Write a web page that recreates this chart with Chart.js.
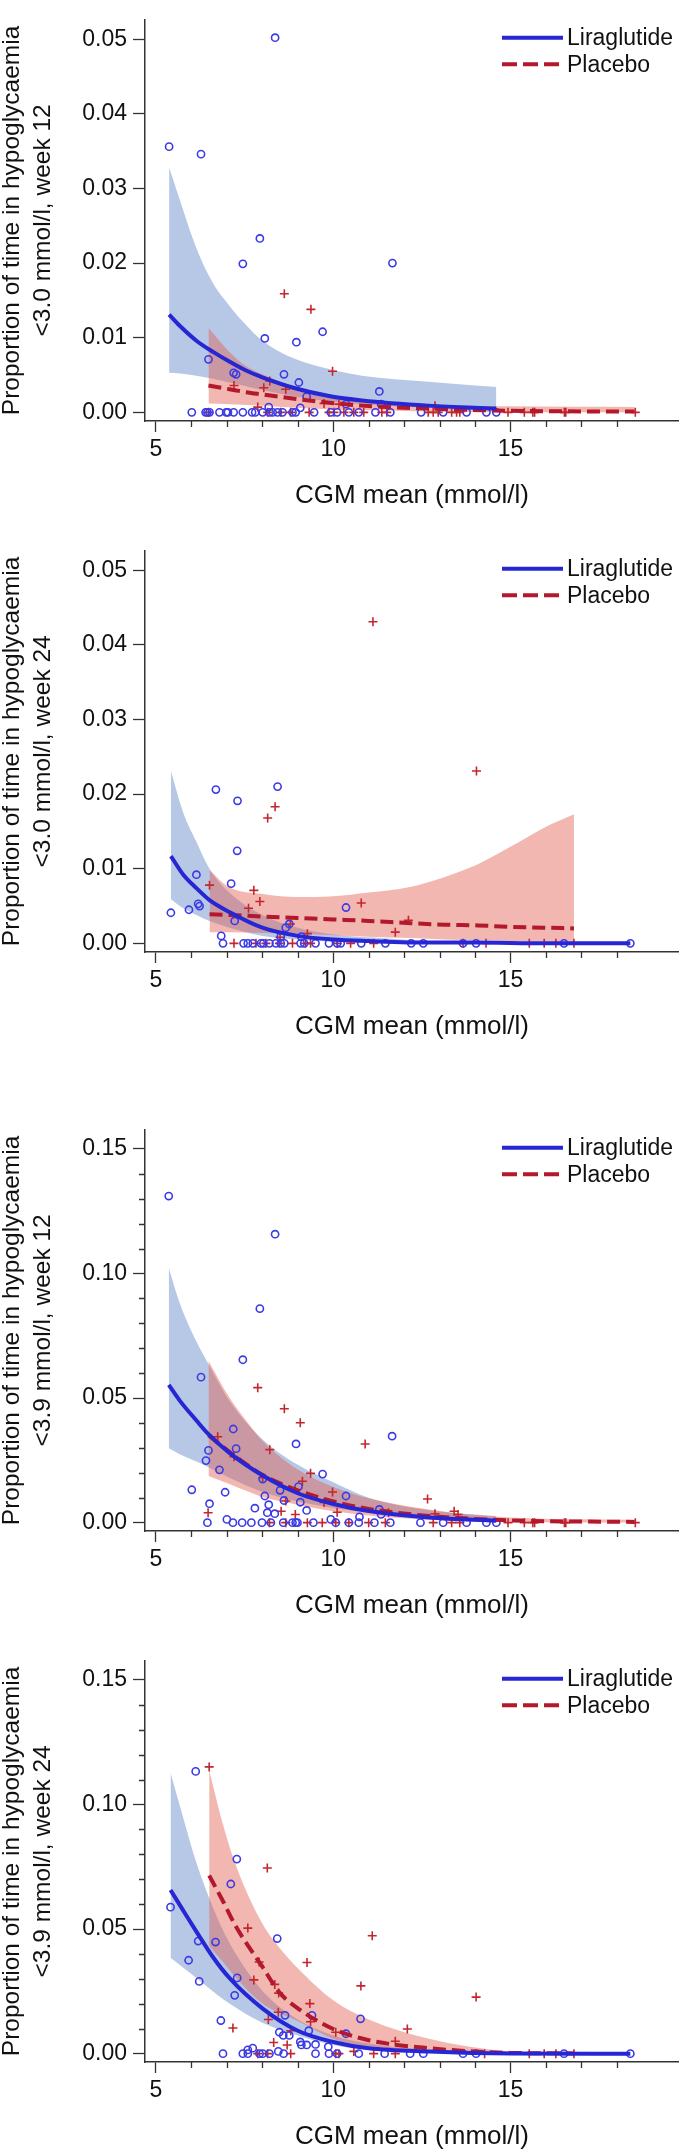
<!DOCTYPE html>
<html>
<head>
<meta charset="utf-8">
<script src="https://cdn.jsdelivr.net/npm/chart.js@4.4.0/dist/chart.umd.min.js"></script>
<style>
  body { margin: 0; background: #fff; }
  #wrap { position: relative; width: 685px; height: 2152px; }
  canvas { position: absolute; left: 0; }
</style>
</head>
<body>
<div id="wrap">
  <canvas id="p1" width="685" height="511" style="top:0px"></canvas>
  <canvas id="p2" width="685" height="511" style="top:531px"></canvas>
  <canvas id="p3" width="685" height="511" style="top:1110px"></canvas>
  <canvas id="p4" width="685" height="511" style="top:1641px"></canvas>
</div>
<script>
// axis ticks
const xMajorTicks = [5, 10, 15];
const xMinorTicks = [6, 7, 8, 9, 11, 12, 13, 14, 16, 17, 18];
const yTicksLow = [0, 0.01, 0.02, 0.03, 0.04, 0.05];
const yTicksHigh = [0, 0.05, 0.10, 0.15];
const yMinorHigh = [0.01, 0.02, 0.03, 0.04, 0.06, 0.07, 0.08, 0.09, 0.11, 0.12, 0.13, 0.14];

const seriesNames = ["Liraglutide", "Placebo"];
const xTitle = "CGM mean (mmol/l)";
const yTitleMain = "Proportion of time in hypoglycaemia";
const yTitleSub = ["<3.0 mmol/l, week 12", "<3.0 mmol/l, week 24", "<3.9 mmol/l, week 12", "<3.9 mmol/l, week 24"];

// ---- panel 1 : <3.0 mmol/l, week 12
const p1LiraPts = [[5.37,0.0356],[6.27,0.0346],[8.36,0.0502],[7.93,0.0233],[7.45,0.0199],[11.67,0.0200],[9.70,0.0108],[8.07,0.0099],[8.96,0.0094],[6.48,0.0071],[7.19,0.0053],[7.26,0.0051],[8.61,0.0051],[9.03,0.0040],[9.25,0.0021],[11.30,0.0028],[11.35,0.0011],[10.36,0.0011],[8.18,0.0007],[9.07,0.0006],
  [6.01,0],[6.40,0],[6.45,0],[6.51,0],[6.79,0],[6.98,0],[7.03,0],[7.19,0],[7.45,0],[7.71,0],[7.80,0],[8.01,0],[8.20,0],[8.29,0],[8.43,0],[8.57,0],[8.85,0],[8.94,0],[9.46,0],[9.93,0],[10.11,0],[10.44,0],[10.72,0],[11.19,0],[11.61,0],[12.48,0],[13.10,0],[13.76,0],[14.32,0],[14.60,0]];
const p1PlacPts = [[8.62,0.0159],[9.37,0.0138],[9.98,0.0055],[8.21,0.0042],[7.20,0.0036],[8.04,0.0033],[8.66,0.0031],[7.87,0.0007],[9.74,0.0012],[10.16,0.0011],[12.87,0.0009],
  [6.48,0],[8.15,0],[8.52,0],[8.80,0],[9.32,0],[9.88,0],[10.02,0],[10.30,0],[10.58,0],[10.86,0],[11.37,0],[11.51,0],[12.68,0],[12.82,0],[12.96,0],[13.34,0],[13.48,0],[13.57,0],[14.93,0],[15.39,0],[15.63,0],[15.68,0],[16.52,0],[16.56,0],[18.52,0]];
const p1LiraX = [5.37, 5.67, 6.14, 6.61, 7.07, 7.54, 8.0, 8.95, 9.88, 10.81, 12.68, 14.6];
const p1LiraFit = [0.0131, 0.0116, 0.0096, 0.0081, 0.0068, 0.0056, 0.0047, 0.0032, 0.0022, 0.0016, 0.0009, 0.0005];
const p1LiraHi = [0.0328, 0.0285, 0.0220, 0.0173, 0.0143, 0.0117, 0.0096, 0.0071, 0.0058, 0.0049, 0.0041, 0.0034];
const p1LiraLo = [0.0053, 0.0052, 0.0049, 0.0045, 0.0040, 0.0035, 0.0030, 0.0021, 0.0015, 0.0011, 0.0006, 0.0003];
const p1PlacX = [6.48, 7.07, 7.54, 8.0, 8.95, 9.88, 10.81, 12.68, 15.0, 18.5];
const p1PlacFit = [0.0036, 0.0031, 0.0027, 0.0024, 0.0018, 0.0013, 0.0009, 0.0005, 0.0002, 0.0001];
const p1PlacHi = [0.0113, 0.0081, 0.0062, 0.0051, 0.0034, 0.0024, 0.0018, 0.0011, 0.0008, 0.0007];
const p1PlacLo = [0.0012, 0.0011, 0.0010, 0.0009, 0.0006, 0.0004, 0.0003, 0.0001, 0.0000, 0.0000];

// ---- panel 2 : <3.0 mmol/l, week 24
const p2LiraPts = [[5.42,0.0041],[5.93,0.0045],[6.14,0.0092],[6.19,0.0053],[6.23,0.0050],[6.69,0.0206],[7.12,0.0080],[7.30,0.0191],[7.29,0.0124],[7.22,0.0030],[6.84,0.0010],[8.43,0.0210],[8.52,0.0009],[8.66,0.0021],[8.76,0.0026],[9.10,0.0009],[10.36,0.0048],
  [6.89,0],[7.47,0],[7.59,0],[7.73,0],[7.96,0],[8.03,0],[8.20,0],[8.38,0],[8.52,0],[8.62,0],[9.08,0],[9.18,0],[9.50,0],[9.88,0],[10.11,0],[10.21,0],[10.79,0],[11.47,0],[12.20,0],[12.54,0],[13.66,0],[14.03,0],[16.51,0],[18.38,0]];
const p2PlacPts = [[6.51,0.0078],[7.76,0.0071],[7.93,0.0056],[7.61,0.0047],[8.15,0.0168],[8.36,0.0183],[11.12,0.0431],[10.79,0.0054],[8.79,0.0026],[9.27,0.0013],[8.50,0.0008],[11.75,0.0015],[12.12,0.0031],[14.04,0.0231],
  [7.20,0],[7.82,0],[8.10,0],[8.48,0],[8.85,0],[9.22,0],[9.36,0],[10.11,0],[10.49,0],[11.14,0],[13.66,0],[14.31,0],[15.53,0],[15.95,0],[16.28,0],[16.79,0]];
const p2LiraX = [5.42, 5.77, 6.14, 6.51, 7.07, 8.0, 9.0, 10.0, 11.0, 12.7, 14.0, 16.0, 18.38];
const p2LiraFit = [0.0117, 0.0092, 0.0074, 0.0058, 0.0042, 0.0021, 0.0010, 0.0005, 0.0003, 0.0001, 0.0001, 0.0000, 0.0000];
const p2LiraHi = [0.0231, 0.0175, 0.0136, 0.0100, 0.0068, 0.0038, 0.0021, 0.0012, 0.0008, 0.0003, 0.0002, 0.0001, 0.0000];
const p2LiraLo = [0.0059, 0.0047, 0.0038, 0.0030, 0.0021, 0.0010, 0.0005, 0.0002, 0.0001, 0.0000, 0.0000, 0.0000, 0.0000];
const p2PlacX = [6.51, 7.07, 8.0, 9.0, 10.0, 11.0, 12.2, 13.15, 14.08, 15.02, 15.95, 16.79];
const p2PlacFit = [0.0039, 0.0038, 0.0036, 0.0034, 0.0032, 0.0030, 0.0027, 0.0025, 0.0024, 0.0022, 0.0021, 0.0020];
const p2PlacHi = [0.0098, 0.0075, 0.0066, 0.0062, 0.0063, 0.0068, 0.0076, 0.0089, 0.0106, 0.0130, 0.0155, 0.0173];
const p2PlacLo = [0.0015, 0.0015, 0.0014, 0.0013, 0.0011, 0.0009, 0.0007, 0.0005, 0.0004, 0.0003, 0.0002, 0.0002];

// ---- panel 3 : <3.9 mmol/l, week 12
const p3LiraPts = [[5.36,0.1311],[8.36,0.1158],[7.93,0.0859],[7.45,0.0654],[6.27,0.0584],[7.18,0.0376],[11.66,0.0347],[6.48,0.0290],[7.26,0.0297],[6.41,0.0249],[8.95,0.0316],[6.79,0.0212],[9.70,0.0195],[8.01,0.0175],[6.01,0.0132],[6.95,0.0122],[8.50,0.0130],[9.02,0.0145],[8.07,0.0107],[10.36,0.0107],[8.61,0.0089],[9.07,0.0082],[6.51,0.0076],[7.79,0.0058],[8.18,0.0072],[8.14,0.0040],[8.35,0.0036],[9.25,0.0049],[11.30,0.0053],[11.35,0.0033],[10.74,0.0023],[7.00,0.0013],[9.93,0.0013],
  [6.45,0],[7.17,0],[7.43,0],[7.69,0],[7.99,0],[8.24,0],[8.59,0],[8.85,0],[8.94,0],[8.99,0],[9.44,0],[10.07,0],[10.44,0],[10.72,0],[11.16,0],[11.61,0],[12.46,0],[13.10,0],[13.76,0],[14.32,0],[14.60,0]];
const p3PlacPts = [[6.74,0.0345],[7.87,0.0542],[8.62,0.0457],[9.07,0.0401],[8.21,0.0293],[7.20,0.0265],[10.90,0.0316],[9.36,0.0198],[9.13,0.0166],[8.01,0.0180],[9.98,0.0123],[9.74,0.0081],[10.11,0.0042],[8.53,0.0046],[8.93,0.0033],[6.47,0.0040],[8.66,0.0087],[11.56,0.0040],[12.66,0.0095],[12.87,0.0036],[13.41,0.0046],[13.52,0.0033],
  [8.20,0],[8.66,0],[9.27,0],[9.69,0],[10.07,0],[10.44,0],[11.00,0],[11.47,0],[12.82,0],[13.34,0],[13.57,0],[14.93,0],[15.39,0],[15.63,0],[15.68,0],[16.52,0],[16.56,0],[18.52,0]];
const p3LiraX = [5.36, 5.67, 6.14, 6.48, 7.07, 8.0, 9.0, 10.0, 11.0, 12.7, 14.6];
const p3LiraFit = [0.0553, 0.0490, 0.0410, 0.0355, 0.0280, 0.0190, 0.0118, 0.0075, 0.0047, 0.0021, 0.0008];
const p3LiraHi = [0.1022, 0.0881, 0.0727, 0.0637, 0.0489, 0.0335, 0.0232, 0.0162, 0.0100, 0.0050, 0.0027];
const p3LiraLo = [0.0299, 0.0275, 0.0245, 0.0222, 0.0180, 0.0123, 0.0085, 0.0059, 0.0040, 0.0018, 0.0005];
const p3PlacX = [6.48, 7.07, 7.54, 8.0, 9.0, 10.0, 11.0, 12.7, 15.0, 18.5];
const p3PlacFit = [0.0351, 0.0284, 0.0235, 0.0192, 0.0130, 0.0085, 0.0055, 0.0027, 0.0009, 0.0003];
const p3PlacHi = [0.0650, 0.0502, 0.0410, 0.0329, 0.0213, 0.0143, 0.0098, 0.0053, 0.0021, 0.0012];
const p3PlacLo = [0.0187, 0.0155, 0.0128, 0.0104, 0.0072, 0.0046, 0.0029, 0.0012, 0.0003, 0.0001];

// ---- panel 4 : <3.9 mmol/l, week 24
const p4LiraPts = [[5.41,0.0588],[6.12,0.1133],[5.92,0.0375],[6.19,0.0452],[6.22,0.0290],[6.68,0.0448],[7.11,0.0681],[7.28,0.0781],[7.29,0.0304],[7.22,0.0234],[6.83,0.0133],[8.42,0.0462],[8.64,0.0154],[9.40,0.0154],[9.31,0.0092],[10.36,0.0080],[10.77,0.0140],[8.48,0.0086],[8.59,0.0073],[8.76,0.0073],[9.07,0.0047],[9.10,0.0035],[9.25,0.0035],[9.50,0.0037],[9.86,0.0028],[7.73,0.0022],[7.59,0.0015],[8.45,0.0009],
  [6.89,0],[7.45,0],[7.59,0],[7.92,0],[8.01,0],[8.20,0],[8.60,0],[9.50,0],[9.88,0],[10.11,0],[10.72,0],[11.45,0],[12.17,0],[12.54,0],[13.66,0],[14.03,0],[16.51,0],[18.38,0]];
const p4PlacPts = [[6.50,0.1151],[8.14,0.0745],[7.59,0.0504],[11.10,0.0473],[7.91,0.0368],[9.26,0.0366],[7.76,0.0296],[8.35,0.0278],[8.46,0.0243],[10.78,0.0272],[9.34,0.0201],[8.45,0.0166],[8.17,0.0137],[7.17,0.0103],[8.80,0.0092],[12.09,0.0099],[10.07,0.0086],[8.32,0.0045],[8.70,0.0035],[9.36,0.0128],[11.75,0.0050],[14.03,0.0227],[10.58,0.0009],
  [7.87,0],[8.15,0],[8.80,0],[10.07,0],[10.16,0],[11.14,0],[11.75,0],[14.27,0],[15.53,0],[15.95,0],[16.28,0],[16.79,0]];
const p4LiraX = [5.41, 5.77, 6.14, 6.61, 7.07, 8.0, 9.0, 10.0, 11.0, 12.7, 15.0, 18.38];
const p4LiraFit = [0.0657, 0.0574, 0.0490, 0.0387, 0.0304, 0.0182, 0.0092, 0.0047, 0.0022, 0.0009, 0.0001, 0.0000];
const p4LiraHi = [0.1128, 0.0946, 0.0766, 0.0586, 0.0445, 0.0253, 0.0137, 0.0073, 0.0041, 0.0015, 0.0004, 0.0001];
const p4LiraLo = [0.0385, 0.0345, 0.0304, 0.0250, 0.0201, 0.0124, 0.0073, 0.0035, 0.0015, 0.0005, 0.0001, 0.0000];
const p4PlacX = [6.5, 6.89, 7.26, 8.0, 8.48, 9.0, 10.0, 11.0, 12.7, 15.0, 16.79];
const p4PlacFit = [0.0715, 0.0612, 0.0509, 0.0349, 0.0246, 0.0182, 0.0099, 0.0054, 0.0022, 0.0003, 0.0001];
const p4PlacHi = [0.1138, 0.0920, 0.0753, 0.0522, 0.0425, 0.0343, 0.0214, 0.0137, 0.0060, 0.0009, 0.0003];
const p4PlacLo = [0.0432, 0.0368, 0.0304, 0.0201, 0.0163, 0.0131, 0.0060, 0.0028, 0.0009, 0.0001, 0.0000];

// colours
const liraLine = "#2626d4";
const liraMark = "#3a3ae6";
const liraBand = "rgba(95,130,200,0.45)";
const placLine = "#b3182c";
const placMark = "#c4262e";
const placBand = "rgba(225,95,80,0.45)";
const axisColor = "#333";
const fontFamily = '"Liberation Sans", Arial, Helvetica, sans-serif';

Chart.defaults.font.family = fontFamily;
Chart.defaults.color = "#111";

const pts = arr => arr.map(p => ({ x: p[0], y: p[1] }));
const curve = (xs, ys) => xs.map((x, i) => ({ x: x, y: ys[i] }));

// minor ticks and the legend inside the plot
const extras = {
  id: "extras",
  afterDraw(chart) {
    const { ctx, chartArea: a, scales } = chart;
    const opts = chart.options.plugins.extras;
    ctx.save();
    ctx.strokeStyle = axisColor;
    ctx.lineWidth = 1.3;
    ctx.beginPath();
    xMinorTicks.forEach(v => {
      const px = Math.round(scales.x.getPixelForValue(v)) + 0.5;
      ctx.moveTo(px, a.bottom);
      ctx.lineTo(px, a.bottom + 6);
    });
    (opts.yMinor || []).forEach(v => {
      const py = Math.round(scales.y.getPixelForValue(v)) + 0.5;
      ctx.moveTo(a.left, py);
      ctx.lineTo(a.left - 6, py);
    });
    ctx.stroke();

    [0, 1].forEach(i => {
      const ds = chart.data.datasets[i];
      const y = a.top + 18 + i * 26.5;
      ctx.beginPath();
      ctx.strokeStyle = ds.borderColor;
      ctx.lineWidth = ds.borderWidth;
      ctx.setLineDash(i === 1 ? [15, 6] : []);
      ctx.moveTo(502, y);
      ctx.lineTo(563, y);
      ctx.stroke();
      ctx.setLineDash([]);
      ctx.fillStyle = "#111";
      ctx.font = "23px " + fontFamily;
      ctx.textBaseline = "middle";
      ctx.textAlign = "left";
      ctx.fillText(ds.label, 567, y + 1);
    });
    ctx.restore();
  }
};

function makePanel(id, k, lira, plac, liraFit, placFit, yMin, yMax, yTicks, yMinor) {
  const lineDs = (label, data, color, dash) => ({
    label: label, data: data, borderColor: color, borderWidth: 4, borderDash: dash,
    pointRadius: 0, showLine: true, fill: false, cubicInterpolationMode: "monotone"
  });
  const bandDs = (data, color, fill) => ({
    label: "", data: data, borderWidth: 0, borderColor: "transparent", backgroundColor: color,
    pointRadius: 0, showLine: true, fill: fill, cubicInterpolationMode: "monotone"
  });
  new Chart(document.getElementById(id), {
    type: "line",
    data: {
      datasets: [
        lineDs(seriesNames[0], curve(liraFit.x, liraFit.fit), liraLine, []),
        lineDs(seriesNames[1], curve(placFit.x, placFit.fit), placLine, [13, 6]),
        { label: "lira pts", data: pts(lira), showLine: false, pointStyle: "circle", pointRadius: 3.6,
          pointBorderWidth: 1.6, pointBorderColor: liraMark, pointBackgroundColor: "rgba(0,0,0,0)" },
        { label: "plac pts", data: pts(plac), showLine: false, pointStyle: "cross", pointRadius: 4.5,
          pointBorderWidth: 1.6, pointBorderColor: placMark, pointBackgroundColor: placMark },
        bandDs(curve(placFit.x, placFit.hi), placBand, "+1"),
        bandDs(curve(placFit.x, placFit.lo), placBand, false),
        bandDs(curve(liraFit.x, liraFit.hi), liraBand, "+1"),
        bandDs(curve(liraFit.x, liraFit.lo), liraBand, false)
      ]
    },
    options: {
      responsive: false,
      animation: false,
      layout: { padding: { top: 2, right: 3, left: 0, bottom: 0 } },
      plugins: { legend: { display: false }, tooltip: { enabled: false }, extras: { yMinor: yMinor } },
      scales: {
        x: {
          type: "linear", min: 4.69, max: 19.75,
          afterBuildTicks: s => { s.ticks = xMajorTicks.map(v => ({ value: v })); },
          afterFit: s => { s.height = 90; },
          border: { display: true, color: axisColor, width: 1.5 },
          grid: { display: true, drawOnChartArea: false, drawTicks: true, tickLength: 11, tickColor: axisColor, tickWidth: 1.3 },
          ticks: { font: { size: 23 }, color: "#111", padding: 4, maxRotation: 0 },
          title: { display: true, text: xTitle, font: { size: 26 }, color: "#111", padding: { top: 0, bottom: 0 } }
        },
        y: {
          type: "linear", min: yMin, max: yMax,
          afterBuildTicks: s => { s.ticks = yTicks.map(v => ({ value: v })); },
          afterFit: s => { s.width = 145; },
          border: { display: true, color: axisColor, width: 1.5 },
          grid: { display: true, drawOnChartArea: false, drawTicks: true, tickLength: 12, tickColor: axisColor, tickWidth: 1.3 },
          ticks: { font: { size: 23 }, color: "#111", padding: 6, callback: v => Number(v).toFixed(2) },
          title: { display: true, text: [yTitleMain, yTitleSub[k]], font: { size: 24.5, lineHeight: 1.27 }, color: "#111", padding: { top: -3, bottom: 0 } }
        }
      }
    },
    plugins: [extras]
  });
}

makePanel("p1", 0, p1LiraPts, p1PlacPts,
  { x: p1LiraX, fit: p1LiraFit, hi: p1LiraHi, lo: p1LiraLo },
  { x: p1PlacX, fit: p1PlacFit, hi: p1PlacHi, lo: p1PlacLo },
  -0.00116, 0.0526, yTicksLow, []);
makePanel("p2", 1, p2LiraPts, p2PlacPts,
  { x: p2LiraX, fit: p2LiraFit, hi: p2LiraHi, lo: p2LiraLo },
  { x: p2PlacX, fit: p2PlacFit, hi: p2PlacHi, lo: p2PlacLo },
  -0.00116, 0.0526, yTicksLow, []);
makePanel("p3", 2, p3LiraPts, p3PlacPts,
  { x: p3LiraX, fit: p3LiraFit, hi: p3LiraHi, lo: p3LiraLo },
  { x: p3PlacX, fit: p3PlacFit, hi: p3PlacHi, lo: p3PlacLo },
  -0.00335, 0.1577, yTicksHigh, yMinorHigh);
makePanel("p4", 3, p4LiraPts, p4PlacPts,
  { x: p4LiraX, fit: p4LiraFit, hi: p4LiraHi, lo: p4LiraLo },
  { x: p4PlacX, fit: p4PlacFit, hi: p4PlacHi, lo: p4PlacLo },
  -0.00335, 0.1577, yTicksHigh, yMinorHigh);
</script>
</body>
</html>
